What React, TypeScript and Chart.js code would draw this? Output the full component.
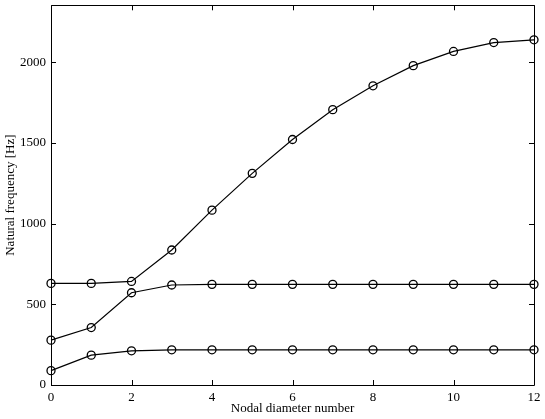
import React, { useEffect, useRef } from "react";
import { Chart, registerables } from "chart.js";

Chart.register(...registerables);

const nodalDiameters = [0, 1, 2, 3, 4, 5, 6, 7, 8, 9, 10, 11, 12];
const mode1 = [89, 185, 212, 218, 218, 218, 218, 218, 218, 218, 218, 218, 218];
const mode2 = [278, 356, 572, 620, 624, 624, 624, 624, 624, 624, 624, 624, 624];
const mode3 = [630, 630, 642, 837, 1084, 1312, 1522, 1707, 1855, 1980, 2068, 2123, 2140];
const xTicks = [0, 2, 4, 6, 8, 10, 12];
const yTicks = [0, 500, 1000, 1500, 2000];
const yMax = 2354;

const FONT = "'Liberation Serif', 'Times New Roman', serif";

const boxTicksPlugin = {
  id: "boxTicks",
  afterDraw(chart: any) {
    const { ctx, chartArea } = chart;
    const xs = chart.scales.x;
    const ys = chart.scales.y;
    const { left, right, top, bottom } = chartArea;
    const len = 5;
    ctx.save();
    ctx.strokeStyle = "#000";
    ctx.lineWidth = 1;
    ctx.beginPath();
    ctx.rect(Math.round(left) + 0.5, Math.round(top) + 0.5, Math.round(right - left), Math.round(bottom - top));
    ctx.stroke();
    ctx.beginPath();
    for (const v of xTicks) {
      const px = Math.round(xs.getPixelForValue(v)) + 0.5;
      ctx.moveTo(px, bottom);
      ctx.lineTo(px, bottom - len);
      ctx.moveTo(px, top);
      ctx.lineTo(px, top + len);
    }
    for (const v of yTicks) {
      const py = Math.round(ys.getPixelForValue(v)) + 0.5;
      ctx.moveTo(left, py);
      ctx.lineTo(left + len, py);
      ctx.moveTo(right, py);
      ctx.lineTo(right - len, py);
    }
    ctx.stroke();
    ctx.restore();
  },
};

function mkDataset(data: number[]) {
  return {
    data: nodalDiameters.map((x, i) => ({ x, y: data[i] })),
    borderColor: "#000",
    borderWidth: 1.2,
    pointStyle: "circle",
    pointRadius: 4,
    pointBorderWidth: 1.3,
    pointBorderColor: "#000",
    pointBackgroundColor: "rgba(0,0,0,0)",
    backgroundColor: "rgba(0,0,0,0)",
    fill: false,
    tension: 0,
    clip: false as any,
  };
}

export default function App() {
  const ref = useRef<HTMLCanvasElement>(null);
  useEffect(() => {
    document.body.style.margin = "0";
    const chart = new Chart(ref.current!, {
      type: "line",
      data: {
        datasets: [mkDataset(mode1), mkDataset(mode2), mkDataset(mode3)],
      },
      options: {
        animation: false,
        responsive: false,
        maintainAspectRatio: false,
        layout: { padding: { top: 1, right: 11, left: 0, bottom: 0 } },
        plugins: { legend: { display: false }, tooltip: { enabled: false } },
        scales: {
          x: {
            type: "linear",
            min: 0,
            max: 12,
            grid: { display: false, drawTicks: false },
            border: { display: false },
            afterBuildTicks: (scale: any) => {
              scale.ticks = xTicks.map((v) => ({ value: v }));
            },
            afterFit: (scale: any) => {
              scale.height = 34;
              scale.paddingLeft = 0;
              scale.paddingRight = 0;
            },
            ticks: {
              color: "#000",
              padding: 5,
              maxRotation: 0,
              font: { family: FONT, size: 13 },
              callback: (v: any) => String(v),
            },
            title: {
              display: true,
              text: "Nodal diameter number",
              color: "#000",
              font: { family: FONT, size: 13 },
              padding: { top: 0, bottom: 3 },
            },
          },
          y: {
            type: "linear",
            min: 0,
            max: yMax,
            grid: { display: false, drawTicks: false },
            border: { display: false },
            afterBuildTicks: (scale: any) => {
              scale.ticks = yTicks.map((v) => ({ value: v }));
            },
            afterFit: (scale: any) => {
              scale.width = 51;
              scale.paddingTop = 0;
              scale.paddingBottom = 0;
            },
            ticks: {
              color: "#000",
              padding: 5,
              font: { family: FONT, size: 13 },
              callback: (v: any) => String(v),
            },
            title: {
              display: true,
              text: "Natural frequency [Hz]",
              color: "#000",
              font: { family: FONT, size: 13 },
              padding: { top: 3, bottom: 0 },
            },
          },
        },
      },
      plugins: [boxTicksPlugin],
    } as any);
    return () => chart.destroy();
  }, []);
  return (
    <div style={{ width: 545, height: 419, background: "#fff" }}>
      <canvas ref={ref} width={545} height={419} style={{ display: "block" }} />
    </div>
  );
}
